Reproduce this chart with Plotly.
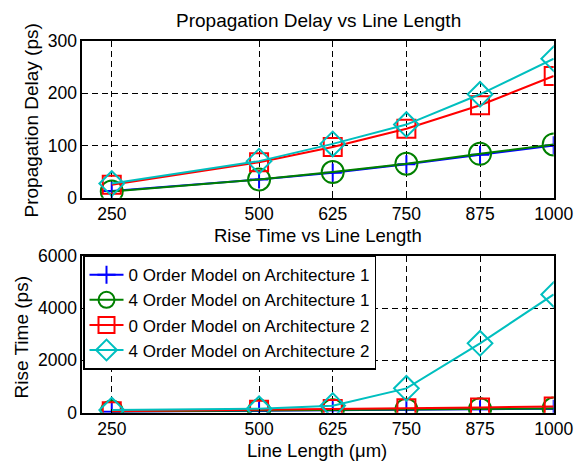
import plotly.graph_objects as go

line_length = [250, 500, 625, 750, 875, 1000]
x_ticks = [250, 500, 625, 750, 875, 1000]

series_names = [
    "0 Order Model on Architecture 1",
    "4 Order Model on Architecture 1",
    "0 Order Model on Architecture 2",
    "4 Order Model on Architecture 2",
]

# Propagation delay (ps)
delay_o0_a1 = [13, 35, 48, 64, 82, 100]
delay_o4_a1 = [12, 35, 49, 65, 84, 102]
delay_o0_a2 = [25, 68, 97, 132, 177, 233]
delay_o4_a2 = [27, 70, 103, 140, 198, 266]

# Rise time (ps)
rise_o0_a1 = [40, 70, 90, 110, 130, 150]
rise_o4_a1 = [45, 75, 95, 115, 135, 160]
rise_o0_a2 = [60, 110, 140, 170, 200, 240]
rise_o4_a2 = [100, 150, 270, 930, 2650, 4520]

colors = ["#0000ff", "#008000", "#ff0000", "#00bfbf"]
symbols = ["cross-thin-open", "circle-open", "square-open", "diamond-open"]
msizes = [13, 22, 18, 19]

W, H = 577, 461
FONT = "Liberation Sans, Arial, sans-serif"

fig = go.Figure()

top_data = [delay_o0_a1, delay_o4_a1, delay_o0_a2, delay_o4_a2]
bot_data = [rise_o0_a1, rise_o4_a1, rise_o0_a2, rise_o4_a2]

for i in range(4):
    fig.add_trace(go.Scatter(
        x=line_length, y=top_data[i], mode="lines+markers", name=series_names[i],
        line=dict(color=colors[i], width=2),
        marker=dict(symbol=symbols[i], size=msizes[i], color=colors[i],
                    line=dict(color=colors[i], width=2)),
        xaxis="x", yaxis="y", showlegend=False))
for i in range(4):
    fig.add_trace(go.Scatter(
        x=line_length, y=bot_data[i], mode="lines+markers", name=series_names[i],
        line=dict(color=colors[i], width=2),
        marker=dict(symbol=symbols[i], size=msizes[i], color=colors[i],
                    line=dict(color=colors[i], width=2)),
        xaxis="x2", yaxis="y2", showlegend=True))

def px_x(p):
    return p / W

def px_y(p):
    return 1 - p / H

xdom = [px_x(82.3), px_x(553.7)]
axis_common = dict(
    showline=True, linecolor="black", linewidth=1.5, mirror="ticks",
    ticks="inside", ticklen=4, tickcolor="black",
    showgrid=True, gridcolor="black", gridwidth=1, griddash="6px,4px",
    zeroline=False, automargin=False,
    tickfont=dict(family=FONT, size=17.5, color="black"),
)

fig.update_layout(
    width=W, height=H,
    margin=dict(l=0, r=0, t=0, b=0, pad=0, autoexpand=False),
    paper_bgcolor="white", plot_bgcolor="white",
    font=dict(family=FONT, color="black"),
    xaxis=dict(domain=xdom, range=[200, 1000], tickvals=x_ticks, anchor="y", **axis_common),
    yaxis=dict(domain=[px_y(197.7), px_y(41)], range=[0, 300], tickvals=[0, 100, 200, 300],
               anchor="x", **axis_common),
    xaxis2=dict(domain=xdom, range=[200, 1000], tickvals=x_ticks, anchor="y2", **axis_common),
    yaxis2=dict(domain=[px_y(412.7), px_y(255.7)], range=[0, 6000], tickvals=[0, 2000, 4000, 6000],
                anchor="x2", **axis_common),
    legend=dict(
        x=px_x(83), y=px_y(255.7), xanchor="left", yanchor="top",
        bgcolor="white", bordercolor="black", borderwidth=1.5,
        font=dict(family=FONT, size=17, color="black"),
        itemwidth=34, tracegroupgap=0,
    ),
    showlegend=True,
)

ann = [
    dict(text="Propagation Delay vs Line Length", x=318, y=20.5, size=19, angle=0),
    dict(text="Rise Time vs Line Length", x=318, y=235, size=18.5, angle=0),
    dict(text="Line Length (\u03bcm)", x=317, y=450, size=18.5, angle=0),
    dict(text="Propagation Delay (ps)", x=31, y=120.5, size=19, angle=-90),
    dict(text="Rise Time (ps)", x=20.5, y=338, size=19, angle=-90),
]
for a in ann:
    fig.add_annotation(text=a["text"], x=px_x(a["x"]), y=px_y(a["y"]), xref="paper", yref="paper",
                       showarrow=False, textangle=a["angle"], xanchor="center", yanchor="middle",
                       font=dict(family=FONT, size=a["size"], color="black"))

fig.write_html(
    "out.html",
    config={"displayModeBar": False},
    post_script="document.body.style.margin='0';document.body.style.overflow='hidden';",
)
